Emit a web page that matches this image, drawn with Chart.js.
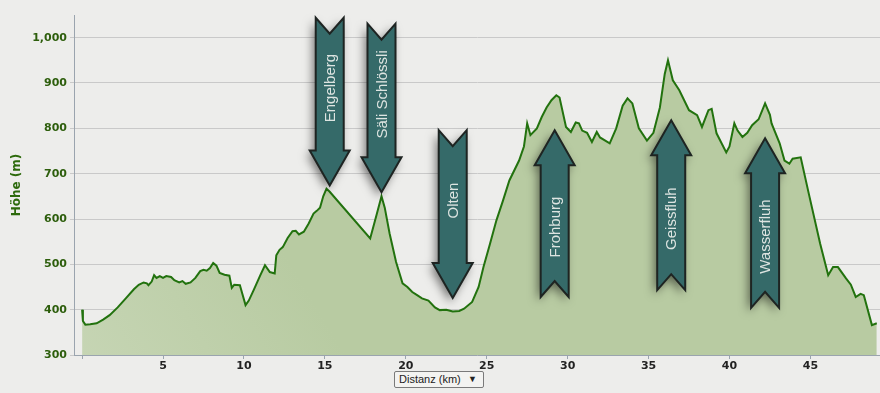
<!DOCTYPE html>
<html>
<head>
<meta charset="utf-8">
<script src="https://cdn.jsdelivr.net/npm/chart.js"></script>
<style>
  html, body {
    margin: 0;
    padding: 0;
    background: #ededeb;
  }
  .wrap {
    position: relative;
    width: 880px;
    height: 393px;
  }
  .auswahl {
    position: absolute;
    left: 394px;
    top: 371px;
    width: 84px;
    height: 15px;
    border: 1px solid #7a7a7a;
    border-radius: 2px;
    background: #f3f3f1;
    font: 11px "Liberation Sans", Arial, sans-serif;
    color: #222;
    line-height: 15px;
    padding-left: 4px;
    box-sizing: content-box;
  }
  .auswahl span {
    position: absolute;
    right: 6px;
    top: 0;
    font-size: 9px;
  }
</style>
</head>
<body>
<div class="wrap">
  <canvas id="profil" width="880" height="393"></canvas>
  <div class="auswahl">Distanz (km)<span>&#9660;</span></div>
</div>

<script>
const distanz = [
  0, 0.05, 0.2, 0.5, 0.9, 1.3, 1.7, 2.2, 2.7, 3.2, 3.5, 3.8, 4.0, 4.1, 4.3, 4.45, 4.6, 4.8, 5.0, 5.2,
  5.5, 5.7, 6.0, 6.2, 6.4, 6.7, 7.0, 7.3, 7.5, 7.7, 7.9, 8.1, 8.3, 8.5, 8.8, 9.1, 9.25, 9.4, 9.75, 9.9,
  10.1, 10.3, 10.6, 11.0, 11.3, 11.6, 11.9, 12.0, 12.2, 12.4, 12.7, 13.0, 13.2, 13.4, 13.7, 14.0, 14.3, 14.5, 14.7, 14.9,
  15.1, 15.3, 17.8, 18.2, 18.5, 18.7, 19.0, 19.4, 19.8, 20.1, 20.4, 20.7, 21.0, 21.4, 21.8, 22.1, 22.5, 22.9, 23.3, 23.6,
  24.1, 24.5, 24.8, 25.2, 25.6, 26.0, 26.4, 27.0, 27.3, 27.5, 27.7, 28.1, 28.4, 28.7, 29.0, 29.3, 29.5, 29.9, 30.2, 30.5,
  30.7, 30.9, 31.2, 31.5, 31.8, 32.0, 32.6, 33.0, 33.4, 33.7, 34.0, 34.4, 34.9, 35.3, 35.7, 36.0, 36.2, 36.5, 36.9, 37.5,
  38.0, 38.3, 38.7, 38.9, 39.2, 39.8, 40.0, 40.3, 40.5, 40.8, 41.1, 41.4, 41.8, 42.2, 42.5, 42.6, 43.1, 43.4, 43.7, 43.9,
  44.4, 44.9, 45.6, 46.1, 46.4, 46.7, 47.2, 47.5, 47.8, 48.1, 48.3, 48.8, 49.1
];
const hoehe = [
  400, 375, 367, 368, 370, 378, 388, 405, 425, 445, 455, 460, 458, 454, 462, 476, 470, 474, 470, 474,
  472, 465, 460, 463, 457, 460, 470, 485, 488, 486, 492, 503, 497, 481, 477, 475, 448, 455, 454, 435,
  410, 420, 443, 475, 498, 483, 480, 520, 532, 538, 558, 573, 574, 566, 572, 590, 612, 618, 625, 650,
  667, 660, 557, 610, 650, 625, 568, 505, 458, 450, 439, 432, 425, 420, 405, 399, 400, 396, 397, 402,
  417, 450, 494, 545, 597, 640, 685, 729, 760, 811, 785, 800, 825, 846, 862, 873, 868, 803, 792, 813,
  811, 795, 790, 770, 792, 780, 767, 800, 850, 866, 855, 800, 773, 790, 846, 920, 950, 906, 884, 840,
  829, 803, 840, 843, 789, 747, 760, 811, 795, 781, 790, 807, 820, 855, 830, 811, 767, 729, 722, 733,
  736, 656, 546, 476, 494, 494, 469, 455, 428, 435, 432, 366, 370
];

const xTicks = [0, 5, 10, 15, 20, 25, 30, 35, 40, 45];
const yTicks = [300, 400, 500, 600, 700, 800, 900, 1000];

// Markierungen: Ort, Distanz, Höhe der Spitze, Höhe des Endes
const orte = ["Engelberg", "Säli Schlössli", "Olten", "Frohburg", "Geissfluh", "Wasserfluh"];
const ortKm = [15.3, 18.5, 22.9, 29.2, 36.4, 42.2];
const ortSpitze = [674, 659, 426, 796, 818, 778];
const ortEnde = [1044, 1031, 796, 428, 443, 404];

const pfeilPlugin = {
  id: "pfeile",
  afterDatasetsDraw(chart) {
    const { ctx, scales: { x, y } } = chart;
    orte.forEach((name, i) => {
      const px = x.getPixelForValue(ortKm[i]);
      const tipY = y.getPixelForValue(ortSpitze[i]);
      const tailY = y.getPixelForValue(ortEnde[i]);
      const dir = tailY < tipY ? 1 : -1;
      const hb = tipY - dir * 35;

      ctx.save();
      ctx.beginPath();
      ctx.moveTo(px, tipY);
      ctx.lineTo(px + 20, hb);
      ctx.lineTo(px + 14, hb);
      ctx.lineTo(px + 14, tailY);
      ctx.lineTo(px, tailY + dir * 16);
      ctx.lineTo(px - 14, tailY);
      ctx.lineTo(px - 14, hb);
      ctx.lineTo(px - 20, hb);
      ctx.closePath();
      ctx.shadowColor = "rgba(0,0,0,0.5)";
      ctx.shadowBlur = 10;
      ctx.shadowOffsetX = -3;
      ctx.shadowOffsetY = 4;
      ctx.fillStyle = "#356a69";
      ctx.fill();
      ctx.shadowColor = "transparent";
      ctx.lineWidth = 2;
      ctx.strokeStyle = "#1e2422";
      ctx.stroke();

      ctx.translate(px + 1, (tailY + dir * 8 + hb) / 2);
      ctx.rotate(-Math.PI / 2);
      ctx.fillStyle = "#dde4e1";
      ctx.font = '15px "Liberation Sans", Arial, sans-serif';
      ctx.textAlign = "center";
      ctx.textBaseline = "middle";
      ctx.fillText(name, 0, 0);
      ctx.restore();
    });
  }
};

new Chart(document.getElementById("profil"), {
  type: "line",
  data: {
    datasets: [{
      data: distanz.map((d, i) => ({ x: d, y: hoehe[i] })),
      borderColor: "#22720e",
      borderWidth: 2,
      pointRadius: 0,
      tension: 0,
      fill: "start",
      backgroundColor: (c) => {
        const area = c.chart.chartArea;
        if (!area) return "#b8cba2";
        const g = c.chart.ctx.createLinearGradient(area.left, area.bottom, area.left + 200, area.bottom - 120);
        g.addColorStop(0, "#c6d5b4");
        g.addColorStop(1, "#b8cba2");
        return g;
      }
    }]
  },
  options: {
    responsive: false,
    animation: false,
    layout: { padding: { top: 15, right: 0, left: 0, bottom: 0 } },
    plugins: {
      legend: { display: false },
      tooltip: { enabled: false }
    },
    scales: {
      x: {
        type: "linear",
        min: -0.5,
        max: 49.3,
        afterBuildTicks: (s) => { s.ticks = xTicks.map(v => ({ value: v })); },
        afterFit: (s) => { s.height = 38; },
        grid: {
          drawOnChartArea: false,
          tickLength: 4,
          color: "#9aa4ae"
        },
        border: { color: "#9aa4ae", width: 1 },
        ticks: {
          padding: 1,
          maxRotation: 0,
          color: "#222",
          font: { family: "DejaVu Sans", size: 11, weight: "bold" },
          callback: (v) => v === 0 ? "" : v
        }
      },
      y: {
        min: 300,
        max: 1050,
        afterBuildTicks: (s) => { s.ticks = yTicks.map(v => ({ value: v })); },
        afterFit: (s) => { s.width = 74; },
        grid: { color: "#c9c9c9", tickLength: 4 },
        border: { color: "#9aa4ae", width: 1 },
        ticks: {
          padding: 3,
          color: "#2d5e0c",
          font: { family: "DejaVu Sans", size: 11, weight: "bold" },
          callback: (v) => v.toLocaleString("en-US")
        },
        title: {
          display: true,
          text: "Höhe (m)",
          color: "#2d6a0c",
          padding: { top: 10, bottom: 0 },
          font: { family: "DejaVu Sans", size: 12, weight: "bold" }
        }
      }
    }
  },
  plugins: [pfeilPlugin]
});
</script>
</body>
</html>
